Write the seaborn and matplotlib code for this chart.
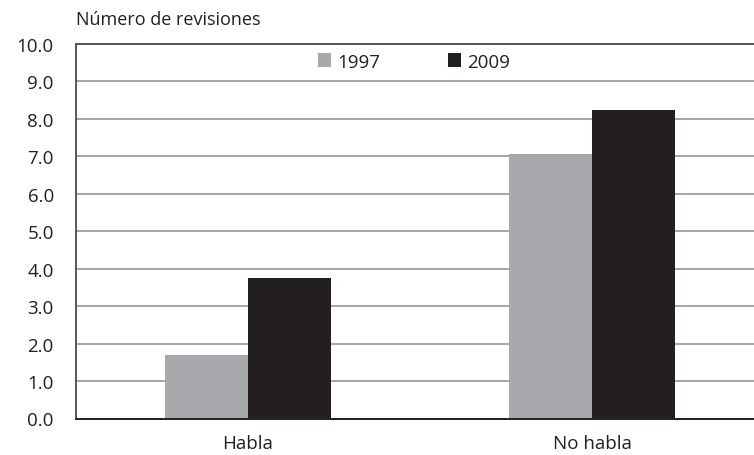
import matplotlib
matplotlib.use("Agg")
import matplotlib.pyplot as plt
import seaborn as sns
import pandas as pd
from matplotlib.patches import Patch

categories = ["Habla", "No habla"]
years = ["1997", "2009"]
values_1997 = [1.7, 7.06]
values_2009 = [3.74, 8.24]

df = pd.DataFrame({
    "grupo": categories * 2,
    "año": [years[0]] * 2 + [years[1]] * 2,
    "revisiones": values_1997 + values_2009,
})

sns.set_theme(style="white")
plt.rcParams["font.family"] = ["Open Sans", "DejaVu Sans"]

colors = {"1997": "#A7A8AB", "2009": "#231F20"}

fig = plt.figure(figsize=(7.54, 4.56), dpi=100)
ax = fig.add_axes([76 / 754, 36.5 / 456, 688 / 754, 374.5 / 456])

sns.barplot(data=df, x="grupo", y="revisiones", hue="año", order=categories,
            hue_order=years, palette=colors, width=0.48, gap=0,
            saturation=1, linewidth=0, ax=ax, legend=False)

ax.set_xlim(-0.5, 1.5)
ax.set_ylim(0, 10)
ax.set_yticks([i for i in range(11)])
ax.set_yticklabels([f"{i:.1f}" for i in range(11)])
ax.set_axisbelow(True)
ax.yaxis.grid(True, color="#A5A5A5", linewidth=1.4)
ax.xaxis.grid(False)
ax.set_xlabel("")
ax.set_ylabel("")
ax.tick_params(axis="y", length=0, pad=16, labelsize=13.5, labelcolor="#231F20")
ax.tick_params(axis="x", length=0, pad=11, labelsize=13.5, labelcolor="#231F20")

ax.spines["right"].set_visible(False)
ax.spines["top"].set_color("#555555")
ax.spines["top"].set_linewidth(1.4)
ax.spines["left"].set_color("#555555")
ax.spines["left"].set_linewidth(1.4)
ax.spines["bottom"].set_color("#231F20")
ax.spines["bottom"].set_linewidth(1.4)

handles = [Patch(facecolor=colors[y], edgecolor="none", label=y) for y in years]
ax.legend(handles=handles, loc="center", bbox_to_anchor=(0.491, 0.953), ncol=2,
          frameon=False, fontsize=13.5, handlelength=0.72, handleheight=0.72,
          handletextpad=0.3, columnspacing=3.6, labelcolor="#231F20")

fig.text(76 / 754, 1 - 20 / 456, "Número de revisiones", fontsize=13,
         color="#231F20", ha="left", va="center")

fig.savefig("out.png", dpi=100)
